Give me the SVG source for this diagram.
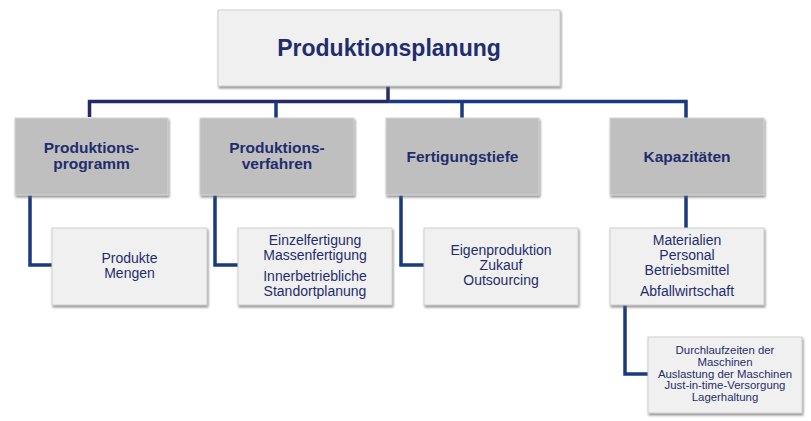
<svg xmlns="http://www.w3.org/2000/svg" width="811" height="421" viewBox="0 0 811 421">
<defs>
<filter id="sh" x="-10%" y="-10%" width="120%" height="130%">
<feDropShadow dx="1" dy="2" stdDeviation="1" flood-color="#666" flood-opacity="0.7"/>
</filter>
</defs>
<style>
.light{fill:#f0f0f0;stroke:#cfcfcf;stroke-width:1;filter:url(#sh)}
.dark{fill:#bfbfbf;stroke:#d4d4d4;stroke-width:1;filter:url(#sh)}
text{font-family:"Liberation Sans",Arial,sans-serif;fill:#1f2d6e;text-anchor:middle}
.t1{font-size:23px;font-weight:bold}
.t2{font-size:15.5px;font-weight:bold}
.t3{font-size:14px}
.t4{font-size:11.4px}
.c{fill:none;stroke:#173a80;stroke-width:3.5}
</style>
<g id="connectors">
<path class="c" d="M388 86V101.5" style="stroke:#232a6b"/>
<path class="c" d="M89.5 117V101.5H388" style="stroke:#232a6b"/>
<path class="c" d="M388 101.5H686V118"/>
<path class="c" d="M276 101.5V118"/>
<path class="c" d="M462 101.5V118"/>
<path class="c" d="M30 195V265H52"/>
<path class="c" d="M215 195V265H238"/>
<path class="c" d="M401 195V265H424"/>
<path class="c" d="M686 195V228"/>
<path class="c" d="M625 305V374H648"/>
</g>
<g id="produktionsplanung">
<rect class="light" x="218" y="10" width="342" height="76"/>
<text class="t1" x="389" y="56">Produktionsplanung</text>
</g>
<g id="produktionsprogramm">
<rect class="dark" x="15" y="118" width="153" height="77"/>
<text class="t2" x="91.5" y="153">Produktions-</text>
<text class="t2" x="91.5" y="169">programm</text>
</g>
<g id="produktionsverfahren">
<rect class="dark" x="200" y="118" width="154" height="77"/>
<text class="t2" x="277" y="153">Produktions-</text>
<text class="t2" x="277" y="169">verfahren</text>
</g>
<g id="fertigungstiefe">
<rect class="dark" x="386" y="118" width="153" height="77"/>
<text class="t2" x="462.5" y="162">Fertigungstiefe</text>
</g>
<g id="kapazitaeten">
<rect class="dark" x="610" y="118" width="154" height="77"/>
<text class="t2" x="687" y="162">Kapazitäten</text>
</g>
<g id="produkte">
<rect class="light" x="52" y="228" width="155" height="77"/>
<text class="t3" x="129.5" y="263">Produkte</text>
<text class="t3" x="129.5" y="278">Mengen</text>
</g>
<g id="fertigung">
<rect class="light" x="238" y="228" width="154" height="77"/>
<text class="t3" x="315" y="245">Einzelfertigung</text>
<text class="t3" x="315" y="260">Massenfertigung</text>
<text class="t3" x="315" y="281">Innerbetriebliche</text>
<text class="t3" x="315" y="296">Standortplanung</text>
</g>
<g id="eigenproduktion">
<rect class="light" x="424" y="228" width="154" height="77"/>
<text class="t3" x="501" y="255">Eigenproduktion</text>
<text class="t3" x="501" y="270">Zukauf</text>
<text class="t3" x="501" y="285">Outsourcing</text>
</g>
<g id="materialien">
<rect class="light" x="610" y="228" width="154" height="77"/>
<text class="t3" x="687" y="245">Materialien</text>
<text class="t3" x="687" y="260">Personal</text>
<text class="t3" x="687" y="275">Betriebsmittel</text>
<text class="t3" x="687" y="296">Abfallwirtschaft</text>
</g>
<g id="durchlaufzeiten">
<rect class="light" x="648" y="337" width="154" height="76"/>
<text class="t4" x="725" y="354">Durchlaufzeiten der</text>
<text class="t4" x="725" y="365.8">Maschinen</text>
<text class="t4" x="725" y="377.6">Auslastung der Maschinen</text>
<text class="t4" x="725" y="389.4">Just-in-time-Versorgung</text>
<text class="t4" x="725" y="401.2">Lagerhaltung</text>
</g>
</svg>
